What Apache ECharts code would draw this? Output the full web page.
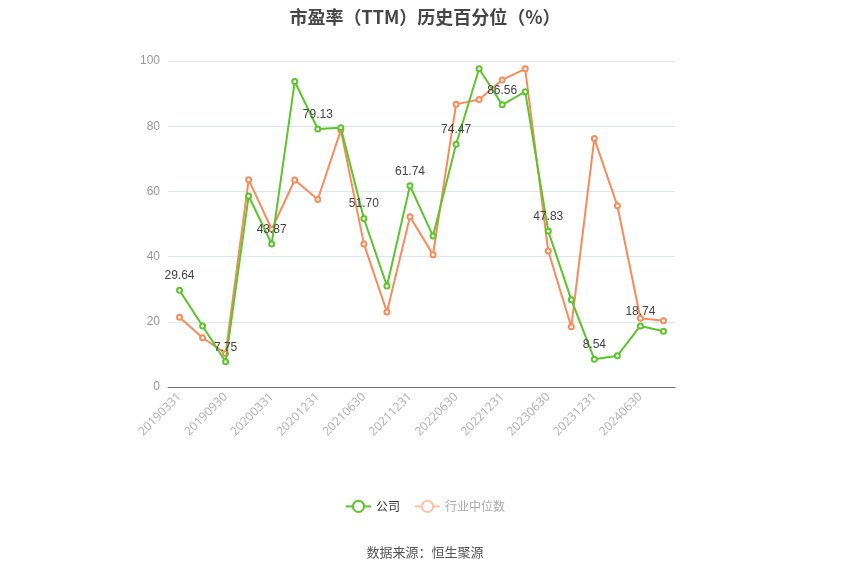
<!DOCTYPE html>
<html><head><meta charset="utf-8">
<script src="https://cdn.jsdelivr.net/npm/echarts@6/dist/echarts.min.js"></script>
<style>html,body{margin:0;padding:0;background:#fff}#c{width:850px;height:575px}</style>
</head><body><div id="c"></div>
<script>
const categories = ['20190331','20190630','20190930','20191231','20200331','20200630','20201231','20210331','20210630','20210930','20211231','20220331','20220630','20220930','20221231','20230331','20230630','20230930','20231231','20240331','20240630','20240930'];
const companyValues = [29.64,18.7,7.75,58.6,43.87,93.7,79.13,79.5,51.70,31.0,61.74,46.3,74.47,97.6,86.56,90.6,47.83,26.8,8.54,9.6,18.74,17.1];
const industryValues = [21.4,15.1,10.3,63.6,48.4,63.5,57.5,78.8,43.9,23.0,52.2,40.6,86.7,88.2,94.2,97.6,41.7,18.5,76.2,55.6,21.1,20.3];
const yTicks = {min:0,max:100,interval:20};
const green = '#5cc52b', orange = '#f68c5b';
const chart = echarts.init(document.getElementById('c'));
chart.setOption({
  animation:false,
  title:{text:'市盈率（TTM）历史百分位（%）',left:'center',top:3,textStyle:{fontSize:18,fontWeight:'bold',color:'#464646',fontFamily:'Noto Sans CJK SC'}},
  grid:{left:168,right:175,top:61,bottom:188},
  legend:{bottom:57,left:'center',itemGap:14,textStyle:{fontFamily:'Noto Sans CJK SC',fontSize:12},
    data:[{name:'公司',textStyle:{color:'#333'}},
          {name:'行业中位数',textStyle:{color:'#aaa'},itemStyle:{color:'#fcc0a4',borderColor:'#fcc0a4'},lineStyle:{color:'#fcc0a4'}}]},
  graphic:[{type:'text',left:'center',top:546,style:{text:'数据来源：恒生聚源',fill:'#555',fontSize:13,fontFamily:'Noto Sans CJK SC'}}],
  xAxis:{type:'category',data:categories,boundaryGap:true,
    axisLine:{lineStyle:{color:'#6e7079'}},
    axisTick:{alignWithLabel:true,interval:1,lineStyle:{color:'#6e7079'}},
    axisLabel:{interval:1,rotate:45,color:'#b0b0b0',fontSize:12,fontFamily:'Open Sans'}},
  yAxis:{type:'value',min:yTicks.min,max:yTicks.max,interval:yTicks.interval,
    axisLine:{show:false},axisTick:{show:false},
    axisLabel:{color:'#999',fontSize:12,margin:8},
    splitLine:{lineStyle:{color:'#e0e6f1'}}},
  series:[
    {name:'公司',type:'line',data:companyValues,symbol:'emptyCircle',symbolSize:5,z:3,
      lineStyle:{color:green,width:2},itemStyle:{color:green},
      label:{show:true,position:'top',color:'#444',fontSize:12,
        formatter:p=>p.dataIndex%2===0?p.value.toFixed(2):''}},
    {name:'行业中位数',type:'line',data:industryValues,symbol:'emptyCircle',symbolSize:5,z:2,
      lineStyle:{color:orange,width:2},itemStyle:{color:orange}}
  ]
});
</script></body></html>
